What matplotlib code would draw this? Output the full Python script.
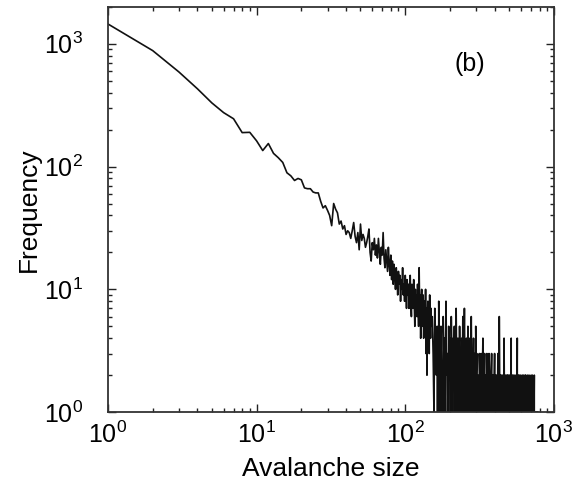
import numpy as np
import matplotlib
matplotlib.use("Agg")
import matplotlib.pyplot as plt
from matplotlib.ticker import LogLocator, LogFormatterMathtext, NullFormatter

plt.rcParams["font.family"] = ["Liberation Sans", "DejaVu Sans"]
plt.rcParams["mathtext.fontset"] = "custom"
plt.rcParams["mathtext.rm"] = "Liberation Sans"
plt.rcParams["mathtext.it"] = "Liberation Sans:italic"

# avalanche sizes 1..150 read one by one
head_counts = [1450, 880, 590, 430, 330, 275, 245, 189, 190, 162,
               135, 154, 128, 118, 108, 89, 84, 77, 80, 78,
               67, 66, 66, 62, 61, 61, 52, 46, 48, 44]
mid_counts = [40, 33, 50, 45, 42, 34, 36, 31, 33, 28,
              30, 29, 26, 30, 35, 27, 24, 29, 21, 34,
              25, 28, 26, 22, 24, 27, 31, 20, 17, 24,
              21, 26, 19, 23, 18, 26, 20, 16, 22, 19,
              29, 18, 15, 21, 17, 14, 22, 16, 13, 19]
late_counts = [12, 17, 11, 16, 13, 10, 15, 12, 9, 14,
               11, 13, 8, 12, 10, 15, 9, 11, 8, 13,
               10, 7, 12, 9, 11, 7, 10, 13, 8, 6,
               11, 9, 7, 12, 8, 5, 10, 7, 9, 6,
               11, 8, 5, 15, 7, 9, 4, 8, 10, 5,
               7, 9, 4, 6, 8, 5, 10, 3, 7, 2,
               6, 8, 4, 6, 3, 9, 5, 4, 7, 5]

# tail: sizes 152..300 every 2, then 303.. every 3
tail1_counts = [6, 3, 1, 7, 4, 2, 5, 0, 8, 3, 1, 5, 2, 0, 6, 3, 4, 1, 8, 2,
                3, 0, 5, 2, 4, 1, 6, 3, 0, 4, 2, 5, 1, 3, 7, 2, 0, 4, 3, 1,
                5, 2, 3, 0, 4, 2, 6, 1, 3, 7, 2, 0, 3, 4, 1, 2, 5, 3, 0, 2,
                4, 1, 3, 6, 2, 0, 3, 2, 4, 1, 3, 2, 0, 5, 2]
tail2_counts = [3, 1, 2, 0, 3, 2, 1, 3, 0, 2, 4, 1, 2, 3, 0, 2, 1, 3, 2, 0,
                1, 3, 2, 1, 0, 2, 3,
                1, 2, 0, 2, 1, 3, 0, 1, 2, 2, 0, 1, 3, 1, 0, 6, 1, 2, 0, 1,
                2, 1, 0, 2, 1, 0, 4, 1, 2, 0, 1, 2, 1, 0, 2, 1, 2, 0, 1, 2,
                1, 0, 2, 1, 4, 0, 1, 2, 1, 0, 2, 1, 0, 1, 2, 0, 1, 1, 2, 0,
                1, 4, 0, 1, 2, 0, 1, 2, 1, 0, 1, 2, 0, 1, 1, 0, 2, 1, 0, 1,
                2, 0, 1, 1, 0, 2, 1, 0, 2, 1,
                0, 1, 1, 0, 2, 1, 0, 1, 0, 2, 1, 0, 1, 1, 0, 1, 2, 0, 1, 0,
                1, 2, 0, 1, 0, 1, 0, 1, 2, 0, 1, 0, 1, 0, 1, 0, 0, 1, 0, 1,
                0, 0, 1]

front = head_counts + mid_counts + late_counts
sizes = np.concatenate([
    np.arange(1, len(front) + 1),
    152 + 2 * np.arange(len(tail1_counts)),
    303 + 3 * np.arange(len(tail2_counts)),
])
counts = np.array(front + tail1_counts + tail2_counts, dtype=float)

fig = plt.figure(figsize=(5.74, 4.86), dpi=100)
ax = fig.add_axes([0.188, 0.152, 0.777, 0.834])

ax.plot(sizes, counts, color="#111111", linewidth=1.2)
ax.set_xscale("log")
ax.set_yscale("log", nonpositive="clip")
ax.set_xlim(1, 1000)
ax.set_ylim(1, 2000)

for axis in (ax.xaxis, ax.yaxis):
    axis.set_major_locator(LogLocator(base=10))
    axis.set_minor_locator(LogLocator(base=10, subs=np.arange(2, 10)))
    axis.set_major_formatter(LogFormatterMathtext())
    axis.set_minor_formatter(NullFormatter())

ax.tick_params(which="both", direction="in", top=True, right=True, width=1.0, color="#222222")
ax.tick_params(which="major", length=6)
ax.tick_params(which="minor", length=3)
ax.tick_params(axis="x", labelsize=18, pad=7)
ax.tick_params(axis="y", labelsize=18, pad=18)

for sp in ax.spines.values():
    sp.set_linewidth(1.3)
    sp.set_color("#333333")

ax.set_xlabel("Avalanche size", fontsize=19, labelpad=6)
ax.set_ylabel("Frequency", fontsize=19, labelpad=2)
ax.text(0.812, 0.859, "(b)", transform=ax.transAxes, fontsize=18,
        ha="center", va="center")

fig.savefig("out.png", dpi=100)
